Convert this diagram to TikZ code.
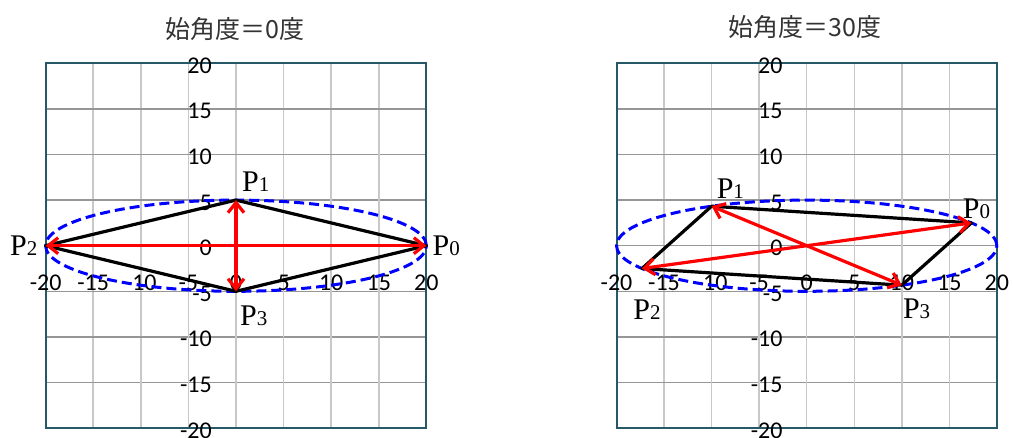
\documentclass[tikz,border=0pt]{standalone}
\usepackage{fontspec}
\setmainfont{Liberation Serif}
\newfontfamily\cjkfont{Noto Sans CJK JP}
\newfontfamily\tickfont{Carlito}
\usetikzlibrary{arrows.meta, positioning}

\definecolor{framecol}{RGB}{38,88,104}
\definecolor{vgrid}{RGB}{200,200,200}
\definecolor{hgrid}{RGB}{150,150,150}

\newcommand{\ptname}[1]{{\fontsize{30}{32}\selectfont P}{\fontsize{21}{24}\selectfont #1}}

\begin{document}
\begin{tikzpicture}[
        x=1pt, y=1pt,
        charttitle/.style={
            font=\cjkfont\fontsize{25}{28}\selectfont,
            text=black!80
        },
        vline/.style={draw=vgrid, line width=1.5pt},
        hline/.style={draw=hgrid, line width=1.5pt},
        chartframe/.style={draw=framecol, line width=2pt},
        xtick/.style={
            font=\tickfont\fontsize{24}{26}\selectfont,
            anchor=base,
            inner sep=0pt
        },
        ytick/.style={
            font=\tickfont\fontsize{24}{26}\selectfont,
            anchor=base east,
            inner sep=0pt,
            xshift=-24pt,
            yshift=-10pt
        },
        orbit/.style={draw=blue, line width=3pt, dash pattern=on 10pt off 5pt},
        side/.style={draw=black, line width=3.2pt, line join=round},
        vec/.style={
            draw=red,
            line width=3.2pt,
            {Straight Barb[length=10pt,width=16pt]}-{Straight Barb[length=10pt,width=16pt]}
        },
        plabel/.style={inner sep=0pt}
    ]

    \useasboundingbox (0,0) rectangle (1013,-437);

    \node (title0) [charttitle] at (235,-29) {始角度＝0度};
    \node (title30) [charttitle] at (805,-27) {始角度＝30度};

    % start angle 0
    \begin{scope}[shift={(236pt,-245.7pt)}, x=9.52pt, y=9.12pt]
        \foreach \v in {-15,-10,...,15} {
            \draw [vline] (\v,-20) -- (\v,20);
            \draw [hline] (-20,\v) -- (20,\v);
        }
        \draw [chartframe] (-20,-20) rectangle (20,20);
        \foreach \v in {-20,-15,...,20} {
            \node [xtick] at (\v,-4.86) {\v};
            \node [ytick] at (0,\v) {\v};
        }
        \draw [orbit] (0,0) ellipse [x radius=20, y radius=5];

        \coordinate (a0) at (20,0);
        \coordinate (a1) at (0,5);
        \coordinate (a2) at (-20,0);
        \coordinate (a3) at (0,-5);

        \draw [side] (a0) -- (a1) -- (a2) -- (a3) -- cycle;
        \draw [vec] (a2) -- (a0);
        \draw [vec] (a3) -- (a1);

        \node (a0lbl) [plabel, right=6pt of a0] {\ptname{0}};
        \node (a1lbl) [plabel, above right=8pt and 6pt of a1] {\ptname{1}};
        \node (a2lbl) [plabel, left=8pt of a2] {\ptname{2}};
        \node (a3lbl) [plabel, below right=14pt and 4pt of a3] {\ptname{3}};
    \end{scope}

    % start angle 30
    \begin{scope}[shift={(806.7pt,-245.7pt)}, x=9.51pt, y=9.12pt]
        \foreach \v in {-15,-10,...,15} {
            \draw [vline] (\v,-20) -- (\v,20);
            \draw [hline] (-20,\v) -- (20,\v);
        }
        \draw [chartframe] (-20,-20) rectangle (20,20);
        \foreach \v in {-20,-15,...,20} {
            \node [xtick] at (\v,-4.86) {\v};
            \node [ytick] at (0,\v) {\v};
        }
        \draw [orbit] (0,0) ellipse [x radius=20, y radius=5];

        \coordinate (b0) at (17.32,2.5);
        \coordinate (b1) at (-10,4.33);
        \coordinate (b2) at (-17.32,-2.5);
        \coordinate (b3) at (10,-4.33);

        \draw [side] (b0) -- (b1) -- (b2) -- (b3) -- cycle;
        \draw [vec] (b2) -- (b0);
        \draw [vec] (b3) -- (b1);

        \node (b0lbl) [plabel, above=4pt of b0, xshift=5pt] {\ptname{0}};
        \node (b1lbl) [plabel, above right=8pt and 5pt of b1] {\ptname{1}};
        \node (b2lbl) [plabel, below=31pt of b2, xshift=5pt] {\ptname{2}};
        \node (b3lbl) [plabel, below right=13pt and 1pt of b3] {\ptname{3}};
    \end{scope}

\end{tikzpicture}
\end{document}
